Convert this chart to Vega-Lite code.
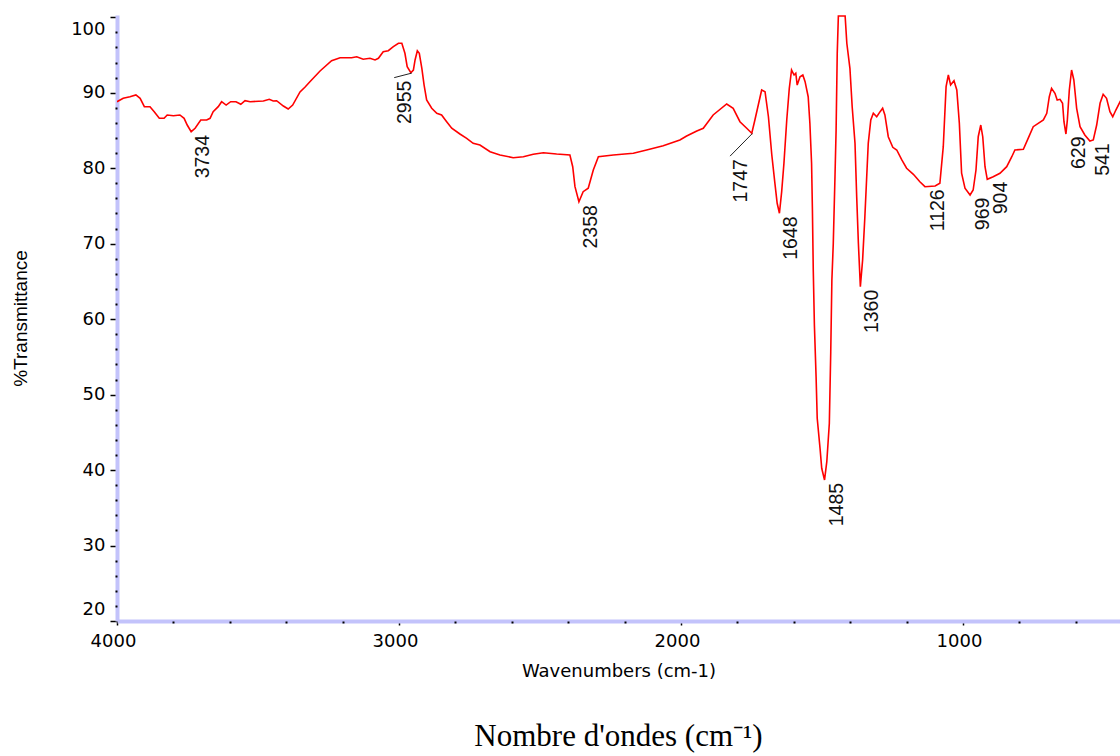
{
  "$schema": "https://vega.github.io/schema/vega-lite/v6.json",
  "width": 1003,
  "height": 606,
  "autosize": {"type": "none"},
  "padding": {"left": 117, "top": 15, "right": 0, "bottom": 135},
  "background": "white",
  "title": {"text": "Nombre d'ondes (cm⁻¹)", "orient": "bottom", "anchor": "middle", "font": "Liberation Serif", "fontSize": 31, "fontWeight": "normal", "color": "#000000", "offset": 42},
  "datasets": {
    "spectrum": [
      {"wn":4000,"t":88.8},{"wn":3978,"t":89.26},{"wn":3954,"t":89.47},{"wn":3933,"t":89.7},{"wn":3918,"t":89.26},
      {"wn":3903,"t":88.15},{"wn":3883,"t":88.15},{"wn":3868,"t":87.49},{"wn":3850,"t":86.61},{"wn":3833,"t":86.61},
      {"wn":3822,"t":87.05},{"wn":3800,"t":86.96},{"wn":3777,"t":87.05},{"wn":3762,"t":86.61},{"wn":3751,"t":85.72},
      {"wn":3737,"t":84.84},{"wn":3723,"t":85.29},{"wn":3703,"t":86.39},{"wn":3682,"t":86.39},{"wn":3670,"t":86.61},
      {"wn":3659,"t":87.49},{"wn":3641,"t":88.15},{"wn":3629,"t":88.81},{"wn":3613,"t":88.37},{"wn":3597,"t":88.81},
      {"wn":3578,"t":88.81},{"wn":3561,"t":88.47},{"wn":3546,"t":88.94},{"wn":3528,"t":88.81},{"wn":3481,"t":88.9},
      {"wn":3460,"t":89.13},{"wn":3446,"t":88.9},{"wn":3434,"t":88.94},{"wn":3410,"t":88.24},{"wn":3393,"t":87.84},
      {"wn":3377,"t":88.37},{"wn":3351,"t":90.1},{"wn":3333,"t":90.76},{"wn":3316,"t":91.46},{"wn":3280,"t":92.88},
      {"wn":3239,"t":94.24},{"wn":3209,"t":94.64},{"wn":3168,"t":94.64},{"wn":3150,"t":94.77},{"wn":3127,"t":94.43},
      {"wn":3103,"t":94.56},{"wn":3085,"t":94.34},{"wn":3073,"t":94.56},{"wn":3056,"t":95.44},{"wn":3038,"t":95.57},
      {"wn":3020,"t":96.1},{"wn":3002,"t":96.55},{"wn":2990,"t":96.55},{"wn":2979,"t":95.23},{"wn":2971,"t":93.45},
      {"wn":2958,"t":92.65},{"wn":2949,"t":93.01},{"wn":2943,"t":94.34},{"wn":2935,"t":95.57},{"wn":2928,"t":95.23},
      {"wn":2919,"t":93.24},{"wn":2911,"t":91.02},{"wn":2902,"t":89.04},{"wn":2884,"t":87.94},{"wn":2866,"t":87.28},
      {"wn":2849,"t":87.05},{"wn":2831,"t":86.16},{"wn":2813,"t":85.29},{"wn":2784,"t":84.53},{"wn":2760,"t":83.96},
      {"wn":2737,"t":83.3},{"wn":2713,"t":83.07},{"wn":2677,"t":82.19},{"wn":2642,"t":81.75},{"wn":2595,"t":81.39},
      {"wn":2559,"t":81.52},{"wn":2524,"t":81.84},{"wn":2488,"t":82.05},{"wn":2441,"t":81.88},{"wn":2394,"t":81.75},
      {"wn":2384,"t":80.2},{"wn":2376,"t":77.55},{"wn":2362,"t":75.56},{"wn":2347,"t":76.89},{"wn":2329,"t":77.34},
      {"wn":2311,"t":79.76},{"wn":2293,"t":81.52},{"wn":2240,"t":81.75},{"wn":2169,"t":81.98},{"wn":2122,"t":82.41},
      {"wn":2063,"t":82.98},{"wn":2004,"t":83.74},{"wn":1980,"t":84.27},{"wn":1944,"t":84.93},{"wn":1921,"t":85.29},
      {"wn":1886,"t":87.05},{"wn":1838,"t":88.51},{"wn":1815,"t":87.94},{"wn":1791,"t":86.16},{"wn":1767,"t":85.29},
      {"wn":1749,"t":84.63},{"wn":1738,"t":86.39},{"wn":1726,"t":88.37},{"wn":1714,"t":90.36},{"wn":1702,"t":90.14},
      {"wn":1690,"t":86.82},{"wn":1678,"t":81.75},{"wn":1667,"t":78.0},{"wn":1659,"t":75.35},{"wn":1651,"t":74.03},
      {"wn":1643,"t":76.89},{"wn":1635,"t":80.65},{"wn":1625,"t":86.39},{"wn":1616,"t":90.59},{"wn":1608,"t":93.01},
      {"wn":1599,"t":92.35},{"wn":1593,"t":92.58},{"wn":1588,"t":91.02},{"wn":1578,"t":92.12},{"wn":1568,"t":92.35},
      {"wn":1560,"t":91.46},{"wn":1549,"t":89.47},{"wn":1543,"t":85.95},{"wn":1537,"t":80.65},{"wn":1534,"t":74.46},
      {"wn":1531,"t":66.51},{"wn":1527,"t":59.22},{"wn":1521,"t":52.37},{"wn":1517,"t":46.86},{"wn":1507,"t":42.89},
      {"wn":1501,"t":40.24},{"wn":1491,"t":38.69},{"wn":1483,"t":41.11},{"wn":1474,"t":46.2},{"wn":1469,"t":55.69},
      {"wn":1465,"t":65.19},{"wn":1460,"t":70.05},{"wn":1454,"t":78.87},{"wn":1450,"t":85.06},{"wn":1446,"t":95.23},
      {"wn":1442,"t":100.17},{"wn":1418,"t":100.17},{"wn":1412,"t":96.55},{"wn":1401,"t":93.24},{"wn":1393,"t":88.15},
      {"wn":1383,"t":83.3},{"wn":1377,"t":76.22},{"wn":1371,"t":70.05},{"wn":1364,"t":64.3},{"wn":1356,"t":67.84},
      {"wn":1348,"t":73.57},{"wn":1342,"t":78.44},{"wn":1336,"t":83.3},{"wn":1327,"t":86.39},{"wn":1318,"t":87.28},
      {"wn":1306,"t":86.82},{"wn":1294,"t":87.49},{"wn":1285,"t":87.94},{"wn":1277,"t":87.05},{"wn":1265,"t":84.17},
      {"wn":1249,"t":82.77},{"wn":1235,"t":82.41},{"wn":1217,"t":81.09},{"wn":1200,"t":79.99},{"wn":1176,"t":79.19},
      {"wn":1153,"t":78.21},{"wn":1135,"t":77.55},{"wn":1099,"t":77.64},{"wn":1082,"t":78.0},{"wn":1070,"t":82.85},
      {"wn":1060,"t":90.8},{"wn":1052,"t":92.35},{"wn":1044,"t":91.02},{"wn":1032,"t":91.59},{"wn":1022,"t":90.36},
      {"wn":1013,"t":85.95},{"wn":1005,"t":79.33},{"wn":993,"t":77.34},{"wn":975,"t":76.45},{"wn":964,"t":77.11},
      {"wn":954,"t":79.76},{"wn":946,"t":84.17},{"wn":937,"t":85.72},{"wn":930,"t":84.17},{"wn":922,"t":80.2},
      {"wn":914,"t":78.53},{"wn":893,"t":78.87},{"wn":869,"t":79.33},{"wn":845,"t":80.2},{"wn":827,"t":81.52},
      {"wn":816,"t":82.41},{"wn":786,"t":82.51},{"wn":769,"t":83.96},{"wn":751,"t":85.5},{"wn":715,"t":86.39},
      {"wn":703,"t":87.28},{"wn":694,"t":89.47},{"wn":686,"t":90.59},{"wn":674,"t":89.93},{"wn":666,"t":89.04},
      {"wn":656,"t":89.13},{"wn":647,"t":88.6},{"wn":642,"t":86.16},{"wn":635,"t":84.53},{"wn":630,"t":86.39},
      {"wn":623,"t":90.36},{"wn":615,"t":93.01},{"wn":607,"t":91.69},{"wn":597,"t":87.94},{"wn":585,"t":85.5},
      {"wn":568,"t":84.4},{"wn":550,"t":83.6},{"wn":538,"t":83.74},{"wn":526,"t":85.72},{"wn":514,"t":88.6},
      {"wn":503,"t":89.79},{"wn":491,"t":89.26},{"wn":479,"t":87.49},{"wn":469,"t":86.82},{"wn":458,"t":87.71},
      {"wn":443,"t":88.81},{"wn":430,"t":89.6}
    ],
    "peaks": [
      {"wn":3734,"t":84.8,"lx":3734,"lt":84.8,"label":"3734"},
      {"wn":2955,"t":92.6,"lx":3017,"lt":92.0,"label":"2955"},
      {"wn":2358,"t":75.5,"lx":2358,"lt":75.5,"label":"2358"},
      {"wn":1747,"t":84.6,"lx":1826,"lt":81.6,"label":"1747"},
      {"wn":1648,"t":74.0,"lx":1648,"lt":74.0,"label":"1648"},
      {"wn":1485,"t":38.7,"lx":1485,"lt":38.7,"label":"1485"},
      {"wn":1360,"t":64.3,"lx":1360,"lt":64.3,"label":"1360"},
      {"wn":1126,"t":77.6,"lx":1126,"lt":77.6,"label":"1126"},
      {"wn":969,"t":76.5,"lx":969,"lt":76.5,"label":"969"},
      {"wn":904,"t":78.6,"lx":904,"lt":78.6,"label":"904"},
      {"wn":629,"t":84.6,"lx":629,"lt":84.6,"label":"629"},
      {"wn":541,"t":83.7,"lx":541,"lt":83.7,"label":"541"}
    ]
  },
  "layer": [
    {
      "data": {"name": "spectrum"},
      "mark": {"type": "line", "color": "#ff0000", "strokeWidth": 1.6, "clip": true},
      "encoding": {
        "x": {
          "field": "wn", "type": "quantitative",
          "scale": {"domain": [443.3, 4000], "reverse": true, "nice": false, "zero": false},
          "axis": {
            "orient": "bottom", "values": [1000, 2000, 3000, 4000], "format": "d", "title": "Wavenumbers (cm-1)",
            "domainColor": "#c3c3fb", "domainWidth": 4, "tickColor": "#000000", "tickSize": 4, "tickWidth": 1.5,
            "labelFont": "DejaVu Sans", "labelFontSize": 18, "labelColor": "#000000", "labelPadding": 7, "labelOffset": -4,
            "labelOverlap": false, "labelFlush": false,
            "titleFont": "DejaVu Sans", "titleFontSize": 18, "titleFontWeight": "normal", "titleColor": "#000000", "titlePadding": 12
          }
        },
        "y": {
          "field": "t", "type": "quantitative",
          "scale": {"domain": [20, 100.3], "nice": false, "zero": false},
          "axis": {
            "orient": "left", "values": [20, 30, 40, 50, 60, 70, 80, 90, 100], "title": "%Transmittance",
            "domainColor": "#c3c3fb", "domainWidth": 4, "tickColor": "#000000", "tickSize": 7, "tickWidth": 1.5,
            "labelFont": "DejaVu Sans", "labelFontSize": 18, "labelColor": "#000000", "labelPadding": 5,
            "labelFlush": 5, "labelFlushOffset": -3, "labelOverlap": false,
            "titleFont": "Liberation Sans", "titleFontSize": 19, "titleFontWeight": "normal", "titleColor": "#000000", "titlePadding": 40
          }
        }
      }
    },
    {
      "data": {"name": "peaks"},
      "mark": {"type": "text", "angle": 270, "align": "right", "baseline": "top", "dx": -3, "dy": 2, "font": "Liberation Sans", "fontSize": 19.5, "color": "#111111"},
      "encoding": {
        "x": {
          "field": "lx", "type": "quantitative",
          "axis": {"orient": "bottom", "values": [600, 800, 1200, 1400, 1600, 1800, 2200, 2400, 2600, 2800, 3200, 3400, 3600, 3800],
                   "labels": false, "domain": false, "ticks": true, "tickSize": 2, "tickWidth": 2, "tickColor": "#000000", "title": null, "grid": false}
        },
        "y": {
          "field": "lt", "type": "quantitative",
          "axis": {"orient": "left", "values": [22,24,26,28,32,34,36,38,42,44,46,48,52,54,56,58,62,64,66,68,72,74,76,78,82,84,86,88,92,94,96,98],
                   "labels": false, "domain": false, "ticks": true, "tickSize": 2, "tickWidth": 2, "tickColor": "#000000", "title": null, "grid": false}
        },
        "text": {"field": "label", "type": "nominal"}
      }
    },
    {
      "data": {"name": "peaks"},
      "transform": [{"filter": "datum.lx != datum.wn"}],
      "mark": {"type": "rule", "color": "#222222", "strokeWidth": 1},
      "encoding": {
        "x": {"field": "wn", "type": "quantitative", "axis": null},
        "y": {"field": "t", "type": "quantitative", "axis": null},
        "x2": {"field": "lx"},
        "y2": {"field": "lt"}
      }
    }
  ],
  "resolve": {"axis": {"x": "independent", "y": "independent"}},
  "config": {
    "view": {"stroke": null},
    "axis": {"grid": false}
  }
}
